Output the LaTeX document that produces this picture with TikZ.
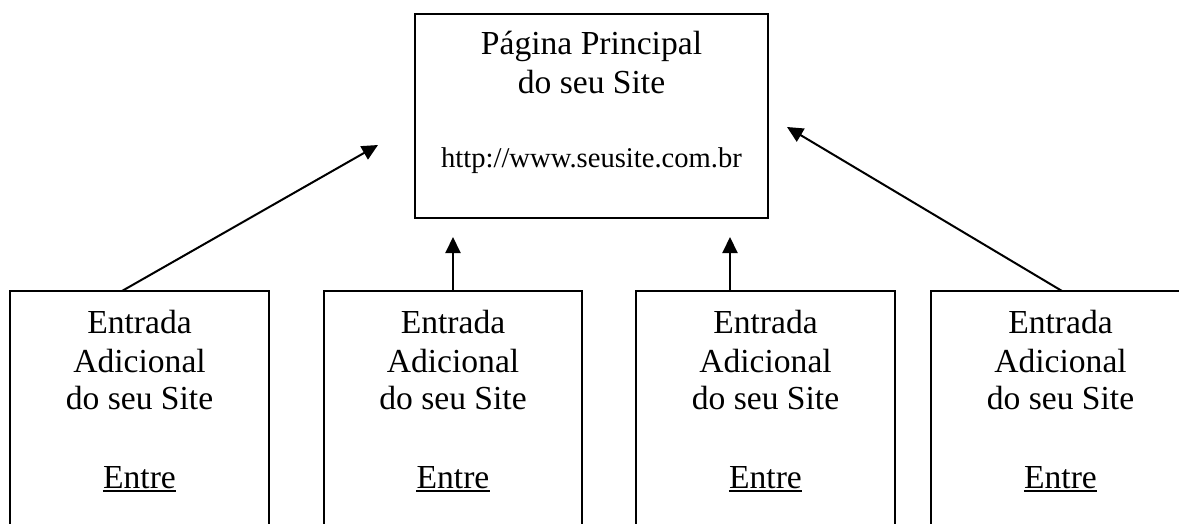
\documentclass[tikz,border=0pt]{standalone}
\usepackage{fontspec}
\setmainfont{Liberation Serif}
\usetikzlibrary{arrows.meta}
\begin{document}
\begin{tikzpicture}[x=1pt,y=-1pt,
  box/.style={draw,line width=2pt,inner sep=0pt},
  txt/.style={anchor=base,inner sep=0pt,font=\fontsize{33.6}{39}\selectfont},
  url/.style={anchor=base,inner sep=0pt,font=\fontsize{28.6}{34}\selectfont},
  uline/.style={line width=2pt},
  arr/.style={line width=2pt,-{Triangle[length=16pt,width=15pt]}}]
\useasboundingbox (0,0) rectangle (1179,524);
% main box
\node[box,minimum width=353pt,minimum height=204pt] (main) at (591.5,116) {};
\node[txt] (m1) at (591.5,55) {Página Principal};
\node[txt] (m2) at (591.5,94) {do seu Site};
\node[url] (m3) at (591.5,168) {http://www.seusite.com.br};
% bottom boxes
\foreach \n/\cx/\w in {1/139.5/259,2/453/258,3/765.5/259,4/1060.5/259}{
  \node[box,minimum width=\w pt,minimum height=269pt] (b\n) at (\cx,425.5) {};
  \node[txt] (e\n a) at (\cx,333) {Entrada};
  \node[txt] (e\n b) at (\cx,372) {Adicional};
  \node[txt] (e\n c) at (\cx,409) {do seu Site};
  \node[txt] (e\n d) at (\cx,488) {Entre};
  \draw[uline] ([yshift=-3pt]e\n d.base west) -- ([yshift=-3pt]e\n d.base east);
}
% connector ends
\coordinate (s1) at (122,291);
\coordinate (t1) at (378,145);
\coordinate (t2) at (453,237);
\coordinate (s3) at (730,291);
\coordinate (t3) at (730,237);
\coordinate (s4) at (1062,291);
\coordinate (t4) at (787,127);
\draw[arr] (s1) -- (t1);
\draw[arr] (b2.north) -- (t2);
\draw[arr] (s3) -- (t3);
\draw[arr] (s4) -- (t4);
\end{tikzpicture}
\end{document}
